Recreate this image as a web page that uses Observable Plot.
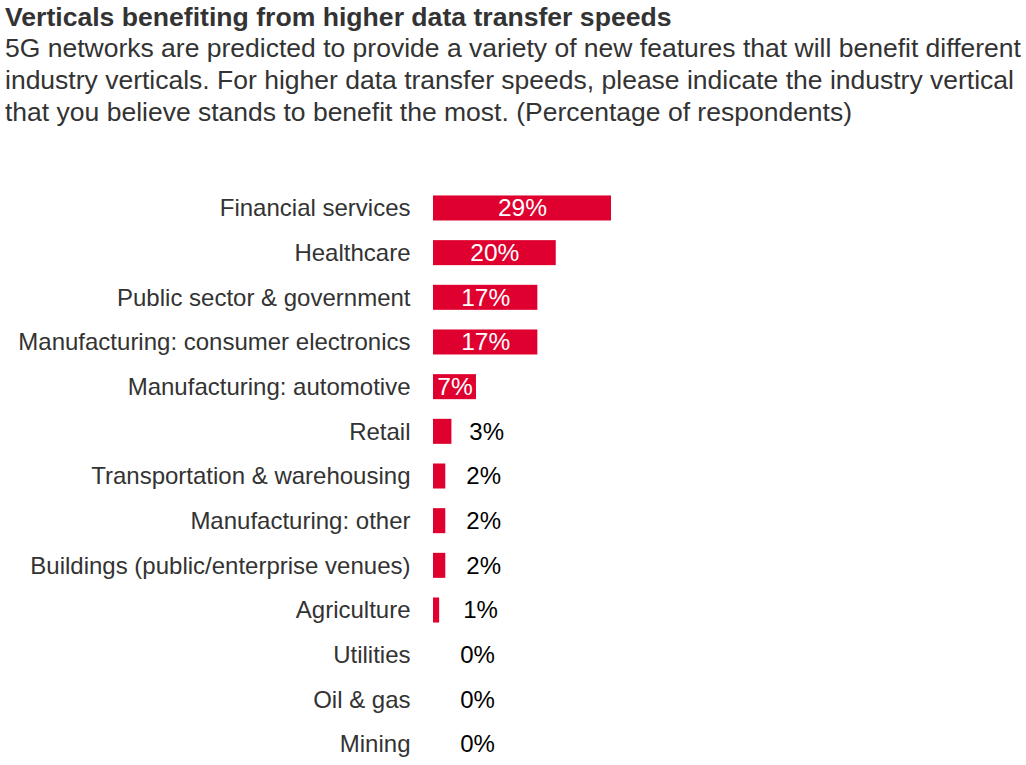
<!DOCTYPE html>
<html>
<head>
<meta charset="utf-8">
<script src="https://cdn.jsdelivr.net/npm/d3@7"></script>
<script src="https://cdn.jsdelivr.net/npm/@observablehq/plot@0.6"></script>
<style>
  html, body { margin: 0; padding: 0; background: #fff; }
  body { width: 1026px; height: 765px; overflow: hidden; font-family: "Liberation Sans", Arial, sans-serif; }
  #title { position: absolute; left: 5px; top: 2px; font-size: 26.6px; font-weight: bold; color: #333; white-space: nowrap; line-height: 30px; }
  #subtitle { position: absolute; left: 5px; top: 32px; font-size: 26.5px; color: #333; white-space: nowrap; line-height: 32px; }
  #chart { position: absolute; left: 0; top: 130px; }
</style>
</head>
<body>
<div id="title">Verticals benefiting from higher data transfer speeds</div>
<div id="subtitle">5G networks are predicted to provide a variety of new features that will benefit different<br>industry verticals. For higher data transfer speeds, please indicate the industry vertical<br>that you believe stands to benefit the most. (Percentage of respondents)</div>
<div id="chart"></div>
<script>
const categories = [
  "Financial services",
  "Healthcare",
  "Public sector & government",
  "Manufacturing: consumer electronics",
  "Manufacturing: automotive",
  "Retail",
  "Transportation & warehousing",
  "Manufacturing: other",
  "Buildings (public/enterprise venues)",
  "Agriculture",
  "Utilities",
  "Oil & gas",
  "Mining"
];
const values = [29, 20, 17, 17, 7, 3, 2, 2, 2, 1, 0, 0, 0];

const data = categories.map((c, i) => ({category: c, value: values[i], label: values[i] + "%"}));
const inside = data.filter(d => d.value >= 5);
const outside = data.filter(d => d.value < 5);

const chart = Plot.plot({
  width: 1026,
  height: 635,
  marginLeft: 433,
  marginRight: 415,
  marginTop: 61,
  marginBottom: 4,
  style: {fontFamily: "Liberation Sans, Arial, sans-serif", fontSize: "24px", color: "#333", background: "transparent"},
  x: {domain: [0, 29], axis: null},
  y: {domain: categories, paddingInner: 0.44, paddingOuter: 0.1, round: false, label: null},
  marks: [
    Plot.barX(data, {x: "value", y: "category", fill: "#df002f"}),
    Plot.text(inside, {x: d => d.value / 2, y: "category", text: "label", fill: "white", fontSize: 24.5, textAnchor: "middle"}),
    Plot.text(outside, {x: d => d.value / 2, y: "category", text: "label", fill: "black", fontSize: 24, textAnchor: "middle", dx: 44}),
    Plot.axisY({tickSize: 0, tickPadding: 23, fontSize: 24, fill: "#333", label: null})
  ]
});
document.getElementById("chart").appendChild(chart);
</script>
</body>
</html>
